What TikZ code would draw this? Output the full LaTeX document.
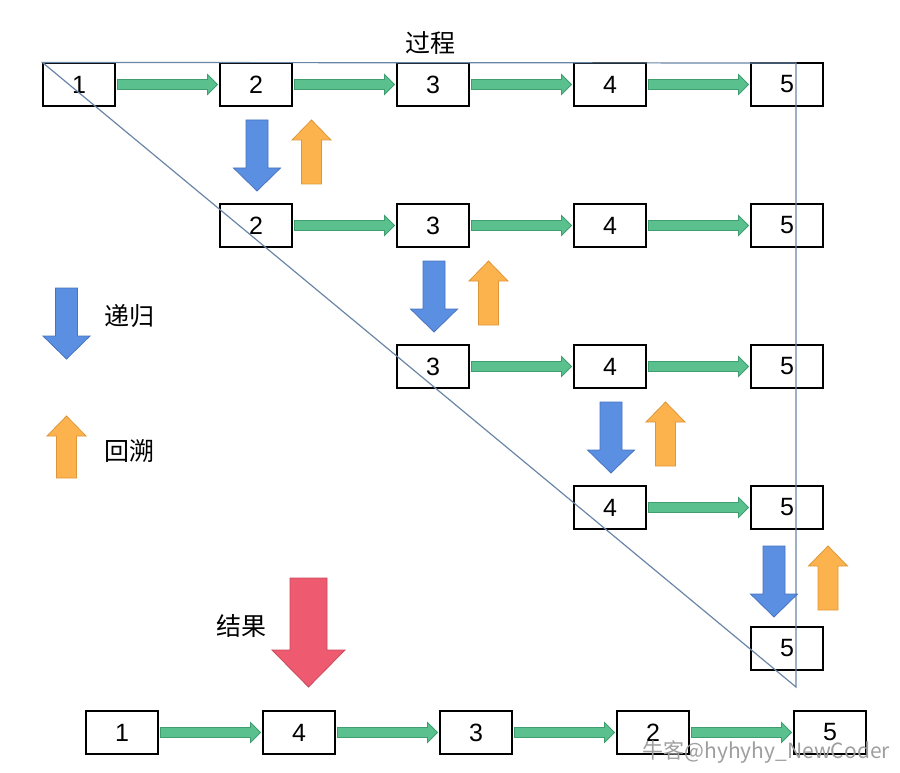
\documentclass[tikz,border=0pt]{standalone}
\usepackage{fontspec}
\setmainfont{Liberation Sans}
\newfontfamily\cjk{Noto Sans CJK SC}
\usetikzlibrary{calc}
\definecolor{gfill}{HTML}{5AC18E}
\definecolor{gline}{HTML}{3F9E70}
\definecolor{bfill}{HTML}{5B8FE2}
\definecolor{bline}{HTML}{4873BF}
\definecolor{ofill}{HTML}{FDB34D}
\definecolor{oline}{HTML}{DD9638}
\definecolor{rfill}{HTML}{EE5B70}
\definecolor{rline}{HTML}{C8485A}
\definecolor{tline}{HTML}{6A86A6}
\tikzset{
  numbox/.style={draw=black, line width=1.1pt, minimum width=72pt, minimum height=43pt, inner sep=0pt, font=\fontsize{25}{25}\selectfont},
  garrow/.style={fill=gfill, draw=gline, line width=0.8pt, line join=miter},
  barrow/.style={fill=bfill, draw=bline, line width=0.8pt},
  oarrow/.style={fill=ofill, draw=oline, line width=0.8pt},
  rarrow/.style={fill=rfill, draw=rline, line width=0.8pt},
  tri/.style={draw=tline, line width=1.2pt},
  cjklabel/.style={font=\cjk\fontsize{25}{25}\selectfont, inner sep=0pt},
}
% horizontal connector arrow between two boxes
\newcommand{\linkarrow}[2]{%
  \path ($(#1.east)+(2,0)$) coordinate (s) ($(#2.west)+(-2,0)$) coordinate (e);
  \filldraw[garrow] ($(s)+(0,5)$) -- ($(e)+(-10,5)$) -- ($(e)+(-10,10)$) -- (e)
     -- ($(e)+(-10,-10)$) -- ($(e)+(-10,-5)$) -- ($(s)+(0,-5)$) -- cycle;}
% block arrow: #1 style, #2 cx, #3 tail y, #4 head base y, #5 tip y, #6 shaft half, #7 head half
\newcommand{\blockarrow}[7]{%
  \filldraw[#1] ({(#2)-(#6)},{-(#3)}) -- ({(#2)-(#6)},{-(#4)}) -- ({(#2)-(#7)},{-(#4)})
     -- ({#2},{-(#5)}) -- ({(#2)+(#7)},{-(#4)})
     -- ({(#2)+(#6)},{-(#4)}) -- ({(#2)+(#6)},{-(#3)}) -- cycle;}
\begin{document}
\begin{tikzpicture}[x=1pt,y=1pt]
\useasboundingbox (0,0) rectangle (900,-773);
% process boxes
\foreach \r in {1,...,5}{
  \foreach \c in {\r,...,5}{
    \node[numbox] (n\r\c) at ({79+177*(\c-1)},{-(84.5+141*(\r-1))}) {\c};
  }
}
% result boxes
\node[numbox] (b1) at (122,-732.5) {1};
\node[numbox] (b2) at (299,-732.5) {4};
\node[numbox] (b3) at (476,-732.5) {3};
\node[numbox] (b4) at (653,-732.5) {2};
\node[numbox] (b5) at (830,-732.5) {5};
% triangle
\coordinate (tl) at (n11.north west);
\coordinate (tr) at (796,-63);
\coordinate (br) at (796,-687);
\draw[tri] (tl) -- (tr) -- (br) -- cycle;
% green connectors
\linkarrow{n11}{n12}\linkarrow{n12}{n13}\linkarrow{n13}{n14}\linkarrow{n14}{n15}
\linkarrow{n22}{n23}\linkarrow{n23}{n24}\linkarrow{n24}{n25}
\linkarrow{n33}{n34}\linkarrow{n34}{n35}
\linkarrow{n44}{n45}
\linkarrow{b1}{b2}\linkarrow{b2}{b3}\linkarrow{b3}{b4}\linkarrow{b4}{b5}
% recursion / backtracking arrows
\foreach \k in {0,...,2}{
  \blockarrow{barrow}{257+177*\k}{120+141*\k}{168+141*\k}{191+141*\k}{11}{23.5}
  \blockarrow{oarrow}{311.5+177*\k}{184+141*\k}{140+141*\k}{120+141*\k}{10}{19.5}
}
\blockarrow{barrow}{774}{546}{594}{617}{11}{23.5}
\blockarrow{oarrow}{828}{610}{566}{546}{10}{19.5}
% legend
\blockarrow{barrow}{66.5}{288}{336}{359}{11}{23.5}
\node[cjklabel, anchor=west] (lrec) at (104,-316) {递归};
\blockarrow{oarrow}{66.5}{478}{436}{416}{10}{19.5}
\node[cjklabel, anchor=west] (lback) at (104,-451) {回溯};
% result arrow
\blockarrow{rarrow}{308.5}{578}{650}{687}{18.5}{36.5}
\node[cjklabel, anchor=west] (lres) at (216,-626) {结果};
% title
\node[cjklabel] (title) at (430,-43) {过程};
% watermark
\node[font=\cjk\fontsize{21}{21}\selectfont, text=black!38, anchor=east, inner sep=0pt] (wm) at (890,-752) {牛客@hyhyhy\_NewCoder};
\end{tikzpicture}
\end{document}
